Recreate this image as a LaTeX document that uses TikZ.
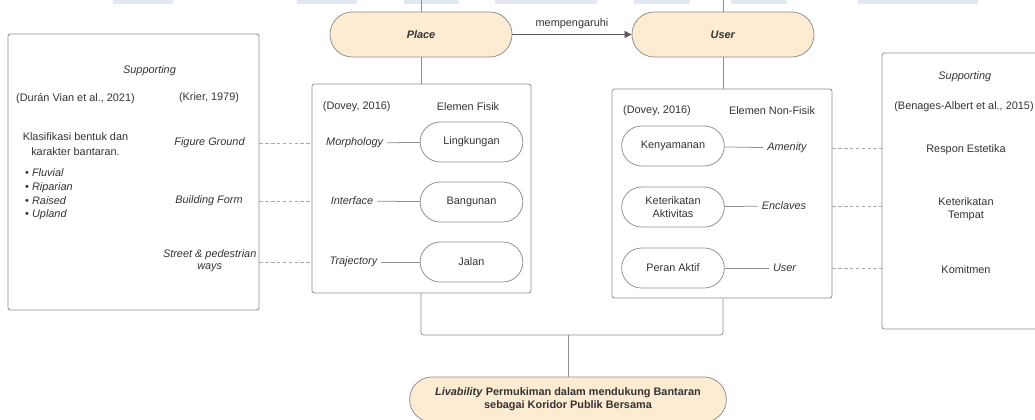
\documentclass[tikz,border=0pt]{standalone}
\usepackage{fontspec}
\setmainfont{Liberation Sans}
\usetikzlibrary{arrows.meta, positioning, fit}

\definecolor{txt}{HTML}{333333}
\definecolor{edge}{HTML}{8E8E8E}
\definecolor{dashgray}{HTML}{ABABAB}
\definecolor{peach}{HTML}{FDEBD2}
\definecolor{wmark}{HTML}{E3E8F0}

\begin{document}
\begin{tikzpicture}[x=0.03cm, y=-0.03cm,
    font=\fontsize{9.3}{10.6}\selectfont, text=txt,
    panel/.style={draw=edge, rounded corners=2pt, inner sep=0pt, line width=0.65pt},
    pill/.style={draw=edge, rounded corners=0.6cm, inner sep=0pt, minimum width=3.08cm,
        minimum height=1.2cm, align=center, line width=0.65pt},
    topic/.style={pill, fill=peach, rounded corners=0.67cm, minimum height=1.35cm,
        font=\fontsize{9.3}{11.4}\selectfont\bfseries},
    term/.style={font=\fontsize{9.3}{10.6}\selectfont\itshape, align=center},
    link/.style={draw=edge, line width=0.65pt},
    dashlink/.style={draw=dashgray, line width=0.65pt, dash pattern=on 3pt off 2pt}]
    \useasboundingbox (0,0) rectangle (1035,419);

    % faint marks along the top edge
    \foreach \xa/\xb in {113/173, 297/357, 404/459, 495/597, 634/690, 731/787, 858/978}
        \fill[wmark] (\xa,0) rectangle (\xb,4);

    % main concepts
    \node[topic, minimum width=5.46cm] (place) at (421,34.5) {\textit{Place}};
    \node[topic, minimum width=5.46cm] (user) at (723,34.5) {\textit{User}};
    \coordinate (placetop) at (421,0);
    \coordinate (usertop) at (723,0);
    \draw[link] (place) -- (placetop);
    \draw[link] (user) -- (usertop);
    \draw[link, draw=txt!80, -{Triangle[length=6pt, width=6pt]}] (place) -- node[above=1pt] {mempengaruhi} (user);

    % left supporting panel
    \node[panel, fit={(8,34) (259,310)}] (leftbox) {};
    \node[term] (supl) at (149.5,71) {Supporting};
    \node (duran) at (75.5,99) {(Durán Vian et al., 2021)};
    \node (krier) at (209,98) {(Krier, 1979)};
    \node[align=center, font=\fontsize{9.3}{12.8}\selectfont] (klas) at (75.5,144) {Klasifikasi bentuk dan\\karakter bantaran.};
    \node[align=left, anchor=west, inner sep=0pt, font=\fontsize{9.3}{11.6}\selectfont] (types) at (25,194.5)
        {• \textit{Fluvial}\\• \textit{Riparian}\\• \textit{Raised}\\• \textit{Upland}};
    \node[term] (figure) at (209.5,143) {Figure Ground};
    \node[term] (building) at (209,201) {Building Form};
    \node[term] (street) at (209.7,260.5) {Street \& pedestrian\\ways};

    % physical elements
    \node[panel, fit={(312,84) (531,293)}] (midl) {};
    \node (doveyl) at (356.7,107) {(Dovey, 2016)};
    \node (fisik) at (468,107) {Elemen Fisik};
    \node[pill] (lingkungan) at (471.5,142) {Lingkungan};
    \node[pill] (bangunan) at (471.5,202) {Bangunan};
    \node[pill] (jalan) at (471.5,262) {Jalan};
    \node[term] (morph) at (354.7,143) {Morphology};
    \node[term] (interface) at (352,201) {Interface};
    \node[term] (traj) at (353.5,262) {Trajectory};
    \draw[link] (morph) -- (lingkungan);
    \draw[link] (interface) -- (bangunan);
    \draw[link] (traj) -- (jalan);

    % non-physical elements
    \node[panel, fit={(612,89) (832,298)}] (midr) {};
    \node (doveyr) at (657,111) {(Dovey, 2016)};
    \node (nonfisik) at (772,111) {Elemen Non-Fisik};
    \node[pill] (kenyamanan) at (673,146) {Kenyamanan};
    \node[pill] (aktivitas) at (673,207) {Keterikatan\\Aktivitas};
    \node[pill] (peran) at (673,268) {Peran Aktif};
    \node[term] (amenity) at (787,148) {Amenity};
    \node[term] (enclaves) at (784,206) {Enclaves};
    \node[term] (usr) at (784.6,268) {User};
    \draw[link] (kenyamanan) -- (amenity);
    \draw[link] (aktivitas) -- (enclaves);
    \draw[link] (peran) -- (usr);

    % right supporting panel
    \node[panel, fit={(882,53) (1045,329)}] (rightbox) {};
    \node[term] (supr) at (964.8,76.5) {Supporting};
    \node (benages) at (964,107) {(Benages-Albert et al., 2015)};
    \node (respon) at (966,150) {Respon Estetika};
    \node[align=center] (tempat) at (966,209) {Keterikatan\\Tempat};
    \node (komitmen) at (966,270) {Komitmen};

    % dashed relations
    \draw[dashlink] (leftbox.east |- figure) -- (midl.west |- figure);
    \draw[dashlink] (leftbox.east |- building) -- (midl.west |- building);
    \draw[dashlink] (leftbox.east |- jalan) -- (midl.west |- jalan);
    \draw[dashlink] (midr.east |- amenity) -- (rightbox.west |- amenity);
    \draw[dashlink] (midr.east |- enclaves) -- (rightbox.west |- enclaves);
    \draw[dashlink] (midr.east |- usr) -- (rightbox.west |- usr);

    % down to the outcome
    \draw[link] (place) -- (place |- midl.north);
    \draw[link] (user) -- (user |- midr.north);
    \node[topic, minimum width=9.5cm, align=center] (liv) at (568,399.5)
        {\textit{Livability} Permukiman dalam mendukung Bantaran\\sebagai Koridor Publik Bersama};
    \coordinate (join) at (568,335);
    \draw[link, rounded corners=2pt] (place |- midl.south) -- (place |- join) -- (user |- join) -- (user |- midr.south);
    \draw[link] (join) -- (liv);
\end{tikzpicture}
\end{document}
